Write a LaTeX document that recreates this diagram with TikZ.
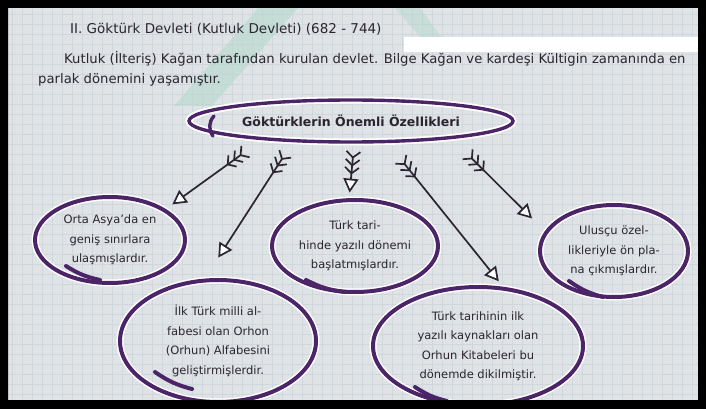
\documentclass[tikz,border=0pt]{standalone}
\usepackage{fontspec}
\setmainfont{DejaVu Sans}
\usetikzlibrary{shapes.geometric,arrows.meta}

\definecolor{paper}{HTML}{DFE3E6}
\definecolor{gridc}{HTML}{D0D7DC}
\definecolor{marker}{HTML}{4B2568}
\definecolor{ink}{HTML}{2A2530}
\definecolor{mint}{HTML}{B2D9CB}

\tikzset{
  bubble/.style={ellipse, draw=marker, line width=4pt,
    preaction={draw=white, line width=7pt},
    inner sep=0pt, align=center, text=ink,
    font=\fontsize{11.5}{19.5}\selectfont},
  feather/.style={draw=ink, line width=1.7pt,
    arrows={Straight Barb[reversed,length=6pt,width=14pt]Straight Barb[reversed,length=6pt,width=14pt]Straight Barb[reversed,length=6pt,width=14pt]-Triangle[fill=white,length=14pt,width=15pt]}},
  stroke/.style={draw=marker, line width=4pt, line cap=round},
  gridline/.style={draw=gridc, line width=0.4pt},
  pagetext/.style={anchor=west, text=ink, inner sep=0pt},
}

\begin{document}
\begin{tikzpicture}[x=1pt,y=-1pt]
	\useasboundingbox (0,0) rectangle (706,409);
	\fill[paper] (0,0) rectangle (706,409);
	% squared paper
	\foreach \gx in {12,22,...,692}
		\draw[gridline] (\gx,8) -- (\gx,400);
	\foreach \gy in {14,24,...,394}
		\draw[gridline] (8,\gy) -- (698,\gy);
	% mint brush strokes
	\fill[mint, opacity=.55] (258,8) -- (298,8) -- (212,106) -- (174,106) -- cycle;
	\fill[mint, opacity=.45] (395,8) -- (420,8) -- (448,46) -- (428,46) -- cycle;

	\node[pagetext, font=\fontsize{13.5}{15}\selectfont] (baslik0) at (70,29) {II. Göktürk Devleti (Kutluk Devleti) (682 - 744)};
	\node[pagetext, font=\fontsize{13.2}{14}\selectfont] (satir1) at (64,59) {Kutluk (İlteriş) Kağan tarafından kurulan devlet. Bilge Kağan ve kardeşi Kültigin zamanında en};
	\node[pagetext, font=\fontsize{13.2}{14}\selectfont] (satir2) at (38,80) {parlak dönemini yaşamıştır.};
	\fill[white] (404,37) rectangle (698,52);

	\node[bubble, line width=3.4pt, minimum width=324pt, minimum height=42pt, font=\bfseries\fontsize{12.5}{15}\selectfont] (baslik) at (351,121) {Göktürklerin Önemli Özellikleri};
	\draw[stroke, line width=3.4pt] (214,116) to[bend right=40] (213,136);

	\node[bubble, minimum width=150pt, minimum height=86pt] (asya) at (110,240) {Orta Asya'da en\\geniş sınırlara\\ulaşmışlardır.};
	\node[bubble, minimum width=166pt, minimum height=92pt] (yazi) at (355,246) {Türk tari-\\hinde yazılı dönemi\\başlatmışlardır.};
	\node[bubble, minimum width=148pt, minimum height=92pt] (ulus) at (614,251) {Ulusçu özel-\\likleriyle ön pla-\\na çıkmışlardır.};
	\node[bubble, minimum width=196pt, minimum height=122pt] (alfabe) at (218,341) {İlk Türk milli al-\\fabesi olan Orhon\\(Orhun) Alfabesini\\geliştirmişlerdir.};
	\node[bubble, minimum width=210pt, minimum height=118pt] (kitabe) at (478,346) {Türk tarihinin ilk\\yazılı kaynakları olan\\Orhun Kitabeleri bu\\dönemde dikilmiştir.};
	% marker starts
	\draw[stroke] (66,266) to[bend right=10] (100,280);
	\draw[stroke] (306,280) to[bend right=10] (345,292);
	\draw[stroke] (569,281) to[bend right=10] (603,297);
	\draw[stroke] (155,372) to[bend right=10] (192,389);
	\draw[stroke] (415,387) to[bend right=10] (447,401);

	\draw[feather, shorten <=19pt, shorten >=8pt] (baslik.192) -- (asya.29);
	\draw[feather, shorten <=13pt, shorten >=25pt] (baslik.200) -- (alfabe.102);
	\draw[feather, shorten <=7pt, shorten >=5.5pt] (baslik.278) -- (yazi.97);
	\draw[feather, shorten <=20pt, shorten >=7pt] (baslik.329) -- (kitabe.67);
	\draw[feather, shorten <=21pt, shorten >=18pt] (baslik.350) -- (ulus.164);

	% black frame round the photo
	\fill[black, even odd rule] (0,0) rectangle (706,409) (8,8) rectangle (698,400);
\end{tikzpicture}
\end{document}
